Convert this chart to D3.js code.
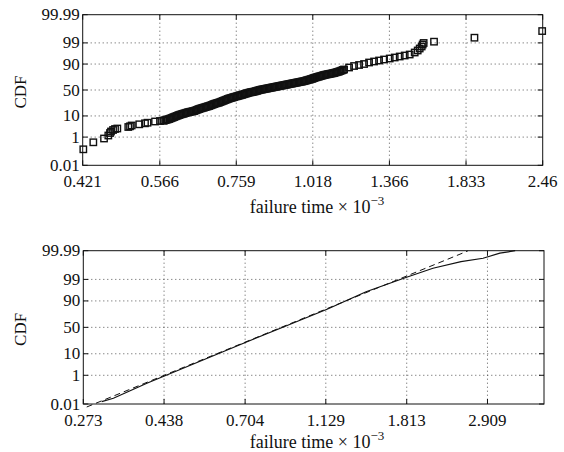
<!DOCTYPE html>
<html>
<head>
<meta charset="utf-8">
<script src="https://cdn.jsdelivr.net/npm/d3@7"></script>
<style>
  body { margin: 0; background: #fff; }
</style>
</head>
<body>
<svg id="chart" width="564" height="452"></svg>
<script>
// top panel: failure times (x 10^-3) and empirical CDF (%)
const topTime = [0.422, 0.4385, 0.4569, 0.4645, 0.4675, 0.4693, 0.473, 0.4766, 0.4808, 0.5015, 0.5048, 0.5081,
  0.5231, 0.5347, 0.5399, 0.5557, 0.5664, 0.5736,
  0.5754, 0.5809, 0.5866, 0.5922, 0.5979, 0.6037, 0.6095, 0.6154, 0.6213, 0.6273, 0.6334, 0.6395, 0.6456, 0.6518,
  0.6581, 0.6644, 0.6709, 0.6773, 0.6839, 0.6905, 0.6971, 0.7038, 0.7106, 0.7174, 0.7244, 0.7314, 0.7385, 0.7456,
  0.7528, 0.7613, 0.7687, 0.7761, 0.7836, 0.7911, 0.7988, 0.8065, 0.8143, 0.8221, 0.8300, 0.8380, 0.8461, 0.8543,
  0.8625, 0.8708, 0.8792, 0.8877, 0.8962, 0.9048, 0.9136, 0.9224, 0.9313, 0.9403, 0.9494, 0.9585, 0.9678, 0.9771,
  0.9865, 0.9960, 1.0056, 1.0153, 1.0231, 1.0329, 1.0429, 1.0530, 1.0631, 1.0733, 1.0837, 1.0941, 1.1047, 1.1154,
  1.1261, 1.1370, 1.1479, 1.1701, 1.1928, 1.2159, 1.2394, 1.2634, 1.2879, 1.3128, 1.3382, 1.3676, 1.3941, 1.4211,
  1.4486, 1.4766, 1.5052, 1.5226, 1.5343, 1.5461, 1.5520, 1.5579, 1.6211, 1.8931, 2.455,
  // points in between, where the band is packed
  0.5782, 0.5837, 0.5894, 0.5950, 0.6008, 0.6066, 0.6124, 0.6184, 0.6243, 0.6303, 0.6364, 0.6426, 0.6487, 0.6549,
  0.6613, 0.6676, 0.6741, 0.6806, 0.6872, 0.6938, 0.7005, 0.7072, 0.7140, 0.7208, 0.7279, 0.7349, 0.7421, 0.7492,
  0.7570, 0.7650, 0.7724, 0.7798, 0.7874, 0.7949, 0.8026, 0.8104, 0.8182, 0.8260, 0.8340, 0.8420, 0.8502, 0.8584,
  0.8666, 0.8750, 0.8834, 0.8920, 0.9005, 0.9092, 0.9180, 0.9268, 0.9358, 0.9448, 0.9540, 0.9631, 0.9725, 0.9818,
  0.9912, 1.0008, 1.0104, 1.0192, 1.0280, 1.0379, 1.0479, 1.0580, 1.0682, 1.0785, 1.0889, 1.0994, 1.1100, 1.1208,
  1.1315, 1.1425];
const topCdf = [0.17, 0.49, 0.83, 1.23, 1.68, 2.02, 2.41, 2.70, 2.86, 3.38, 3.65, 3.98,
  4.51, 5.00, 5.31, 5.99, 6.29, 6.47,
  6.60, 7.09, 7.60, 8.33, 9.12, 9.96, 10.85, 11.60, 12.29, 13.11, 13.86, 14.41, 14.98, 16.16,
  17.40, 18.43, 19.37, 20.47, 21.47, 22.93, 24.46, 25.72, 26.85, 28.50, 30.20, 31.94, 33.73, 35.00,
  36.47, 37.97, 39.29, 40.63, 42.16, 43.71, 45.08, 46.06, 47.04, 48.42, 50.00, 50.99, 51.97, 52.95,
  53.93, 54.91, 55.89, 56.86, 57.83, 58.79, 59.75, 60.70, 61.65, 62.59, 63.52, 64.44, 65.36, 66.26,
  67.16, 68.58, 69.79, 70.99, 72.33, 73.63, 74.75, 75.84, 77.06, 77.80, 78.53, 79.24, 79.94, 81.03,
  81.95, 83.22, 84.43, 86.68, 88.20, 89.15, 90.04, 91.28, 92.04, 92.74, 93.40, 94.01, 94.58, 95.10,
  95.58, 96.02, 96.80, 97.45, 97.98, 98.42, 98.77, 98.99, 99.15, 99.51, 99.82,
  6.84, 7.34, 7.96, 8.72, 9.54, 10.40, 11.22, 11.94, 12.70, 13.48, 14.13, 14.69, 15.57, 16.78,
  17.91, 18.90, 19.92, 20.97, 22.20, 23.69, 25.09, 26.28, 27.67, 29.35, 31.07, 32.83, 34.36, 35.73,
  37.22, 38.63, 39.96, 41.40, 42.93, 44.40, 45.57, 46.55, 47.73, 49.21, 50.50, 51.48, 52.46, 53.44,
  54.42, 55.40, 56.38, 57.35, 58.31, 59.27, 60.23, 61.18, 62.12, 63.06, 63.98, 64.90, 65.81, 66.71,
  67.87, 69.19, 70.39, 71.66, 72.98, 74.19, 75.30, 76.45, 77.43, 78.17, 78.89, 79.59, 80.49, 81.49,
  82.59, 83.83];

// bottom panel: empirical curve (solid) and fitted line (dashed)
const botTime = [0.3041, 0.3256, 0.3961, 0.4436, 0.5312, 0.7124, 0.8749, 1.1413, 1.4292, 1.8042, 2.1141, 2.4917, 2.8349, 3.1273, 3.4207];
const botCdf = [0.0155, 0.0288, 0.337, 1.01, 4.41, 24.3, 49.7, 81.3, 95.8, 99.22, 99.792, 99.928, 99.960, 99.984, 99.990];
const fitTime = [0.2785, 2.5916];
const fitCdf = [0.00556, 99.9894];

const topTicks = [0.421, 0.566, 0.759, 1.018, 1.366, 1.833, 2.46];
const botTicks = [0.273, 0.438, 0.704, 1.129, 1.813, 2.909];
const cdfTicks = [0.01, 1, 10, 50, 90, 99, 99.99];
const cdfLabels = ["0.01", "1", "10", "50", "90", "99", "99.99"];

const FONT = "'Liberation Serif', 'Times New Roman', serif";

// inverse normal CDF (Acklam) for the probability axis
function probit(p) {
  const a = [-3.969683028665376e+01, 2.209460984245205e+02, -2.759285104469687e+02, 1.383577518672690e+02, -3.066479806614716e+01, 2.506628277459239e+00];
  const b = [-5.447609879822406e+01, 1.615858368580409e+02, -1.556989798598866e+02, 6.680131188771972e+01, -1.328068155288572e+01];
  const c = [-7.784894002430293e-03, -3.223964580411365e-01, -2.400758277161838e+00, -2.549732539343734e+00, 4.374664141464968e+00, 2.938163982698783e+00];
  const d = [7.784695709041462e-03, 3.224671290700398e-01, 2.445134137142996e+00, 3.754408661907416e+00];
  const plow = 0.02425;
  let q, r;
  if (p < plow) {
    q = Math.sqrt(-2 * Math.log(p));
    return (((((c[0]*q+c[1])*q+c[2])*q+c[3])*q+c[4])*q+c[5]) / ((((d[0]*q+d[1])*q+d[2])*q+d[3])*q+1);
  } else if (p <= 1 - plow) {
    q = p - 0.5; r = q * q;
    return (((((a[0]*r+a[1])*r+a[2])*r+a[3])*r+a[4])*r+a[5])*q / (((((b[0]*r+b[1])*r+b[2])*r+b[3])*r+b[4])*r+1);
  }
  q = Math.sqrt(-2 * Math.log(1 - p));
  return -(((((c[0]*q+c[1])*q+c[2])*q+c[3])*q+c[4])*q+c[5]) / ((((d[0]*q+d[1])*q+d[2])*q+d[3])*q+1);
}

const svg = d3.select("#chart");

function drawPanel(p) {
  const x = d3.scaleLog().domain(p.xDomain).range([p.left, p.right]);
  const z = d3.scaleLinear().domain([probit(0.0001), probit(0.9999)]).range([p.bottom, p.top]);
  const y = v => z(probit(v / 100));
  const g = svg.append("g");

  // dotted grid
  g.selectAll(".vgrid").data(p.ticks.filter(t => x(t) > p.left + 1 && x(t) < p.right - 1)).enter()
    .append("line").attr("x1", d => x(d)).attr("x2", d => x(d)).attr("y1", p.top).attr("y2", p.bottom)
    .attr("stroke", "#444").attr("stroke-width", 0.9).attr("stroke-dasharray", "1,3");
  g.selectAll(".hgrid").data(cdfTicks.slice(1, -1)).enter()
    .append("line").attr("x1", p.left).attr("x2", p.right).attr("y1", d => y(d)).attr("y2", d => y(d))
    .attr("stroke", "#444").attr("stroke-width", 0.9).attr("stroke-dasharray", "1,3");

  // inward ticks on all four sides
  p.ticks.forEach(t => {
    g.append("line").attr("x1", x(t)).attr("x2", x(t)).attr("y1", p.bottom).attr("y2", p.bottom - 5).attr("stroke", "#111");
    g.append("line").attr("x1", x(t)).attr("x2", x(t)).attr("y1", p.top).attr("y2", p.top + 5).attr("stroke", "#111");
  });
  cdfTicks.forEach(t => {
    g.append("line").attr("x1", p.left).attr("x2", p.left + 5).attr("y1", y(t)).attr("y2", y(t)).attr("stroke", "#111");
    g.append("line").attr("x1", p.right).attr("x2", p.right - 5).attr("y1", y(t)).attr("y2", y(t)).attr("stroke", "#111");
  });

  // tick labels
  g.selectAll(".xl").data(p.ticks).enter().append("text")
    .attr("x", d => x(d)).attr("y", p.bottom + 22).attr("text-anchor", "middle")
    .style("font-family", FONT).style("font-size", "17px").style("fill", "#111").text(d => d);
  g.selectAll(".yl").data(cdfTicks).enter().append("text")
    .attr("x", p.left - 3).attr("y", d => y(d) + 5.5).attr("text-anchor", "end")
    .style("font-family", FONT).style("font-size", "17px").style("fill", "#111").text((d, i) => cdfLabels[i]);

  // axis titles
  g.append("text").attr("transform", `translate(26,${(p.top + p.bottom) / 2 + 2}) rotate(-90)`)
    .attr("text-anchor", "middle").style("font-family", FONT).style("font-size", "17px").style("fill", "#111").text("CDF");
  const xt = g.append("text").attr("x", 317).attr("y", p.labelY).attr("text-anchor", "middle")
    .style("font-family", FONT).style("font-size", "18px").style("fill", "#111");
  xt.append("tspan").text("failure time \u00d7 10");
  xt.append("tspan").attr("dy", -8).style("font-size", "13px").text("\u22123");

  return { g, x, y };
}

// top panel
const topPanel = drawPanel({ xDomain: [0.421, 2.46], left: 82.7, right: 542.7, top: 14.7, bottom: 165.3, labelY: 213, ticks: topTicks });
const pts = topTime.map((t, i) => ({ t, c: topCdf[i] }));
topPanel.g.selectAll(".pt").data(pts).enter().append("rect")
  .attr("x", d => topPanel.x(d.t) - 3.2).attr("y", d => topPanel.y(d.c) - 3.2)
  .attr("width", 6.4).attr("height", 6.4)
  .attr("fill", "none").attr("stroke", "#111").attr("stroke-width", 1.4);

// bottom panel
const botPanel = drawPanel({ xDomain: [0.273, 4.05], left: 83.3, right: 544, top: 250.7, bottom: 404, labelY: 448, ticks: botTicks });
const line = d3.line().x(d => botPanel.x(d.t)).y(d => botPanel.y(d.c));
botPanel.g.append("path").datum(fitTime.map((t, i) => ({ t, c: fitCdf[i] })))
  .attr("d", line).attr("fill", "none").attr("stroke", "#111").attr("stroke-width", 1).attr("stroke-dasharray", "6,4");
botPanel.g.append("path").datum(botTime.map((t, i) => ({ t, c: botCdf[i] })))
  .attr("d", line).attr("fill", "none").attr("stroke", "#111").attr("stroke-width", 1.2);

// frames on top of everything
[[82.7, 14.7, 460, 150.6], [83.3, 250.7, 460.7, 153.3]].forEach(r => {
  svg.append("rect").attr("x", r[0]).attr("y", r[1]).attr("width", r[2]).attr("height", r[3])
    .attr("fill", "none").attr("stroke", "#111").attr("stroke-width", 1);
});
</script>
</body>
</html>
